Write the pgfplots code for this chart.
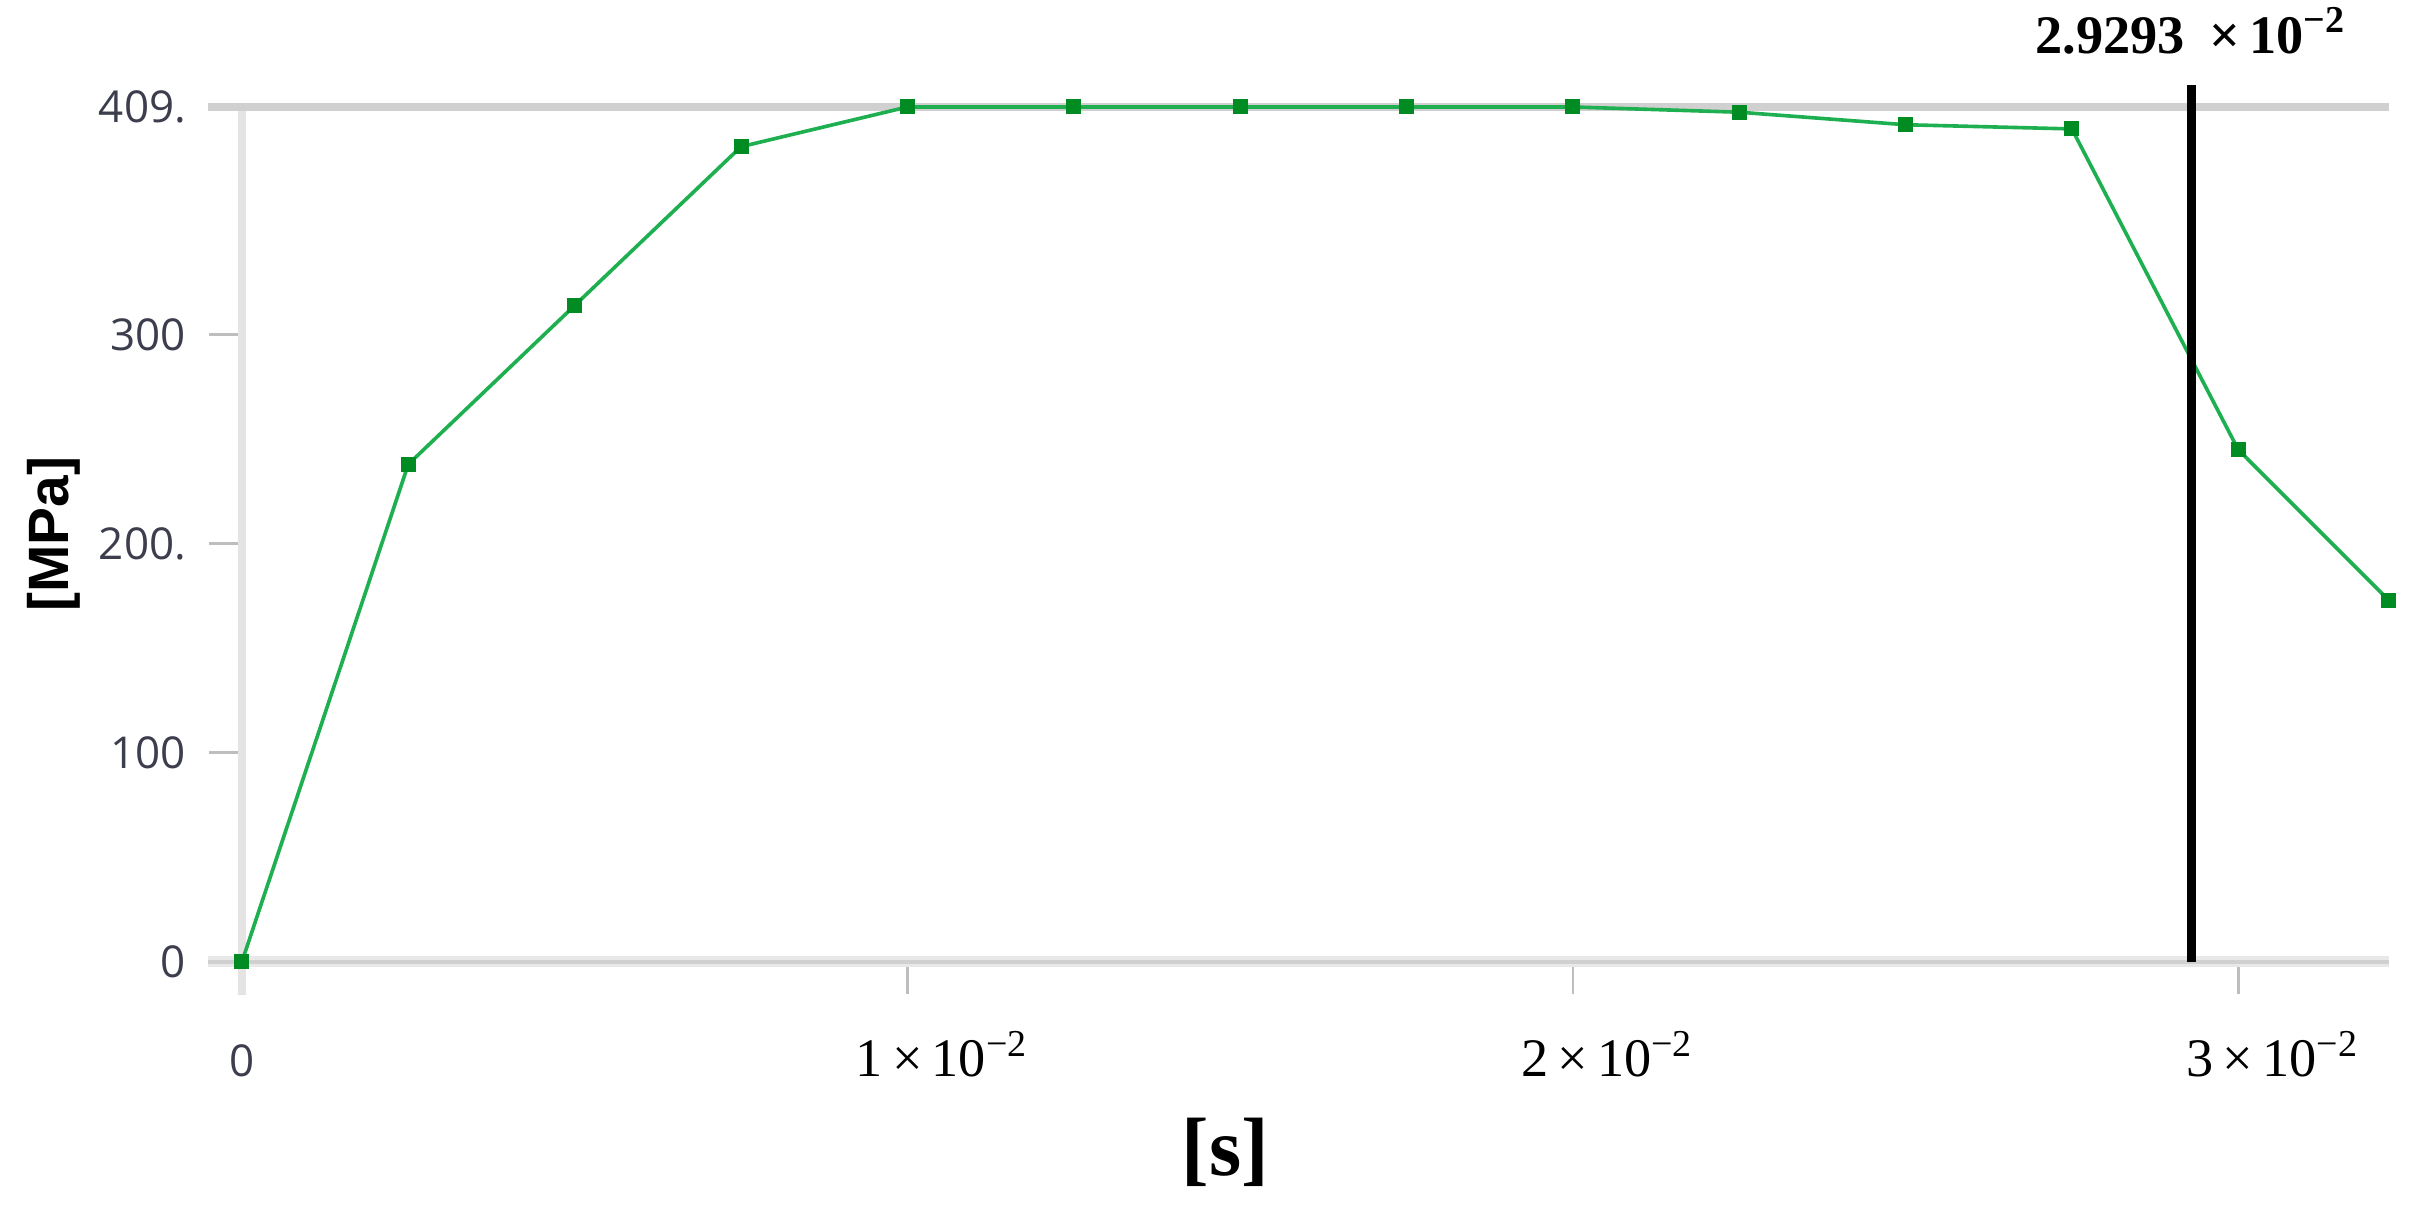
\documentclass[border=0pt]{standalone}
\usepackage{pgfplots}
\pgfplotsset{compat=1.18}
\usepackage{fontspec}
\setmainfont{Liberation Serif}
\newfontfamily\ticksans{Open Sans}
\newfontfamily\labsans{Liberation Sans}
\definecolor{tickgray}{RGB}{60,62,78}
\definecolor{linegreen}{RGB}{30,175,80}
\definecolor{markgreen}{RGB}{0,140,35}
\definecolor{gridgray}{RGB}{208,208,208}
\definecolor{axgray}{RGB}{228,228,228}
\definecolor{tkgray}{RGB}{190,190,190}
\pgfplotstableread{
x y
0 0
0.0025 238
0.005 314
0.0075 390
0.01 409
0.0125 409
0.015 409
0.0175 409
0.02 409
0.0225 406.5
0.025 400.5
0.0275 398.5
0.03 245
0.03226 173
}\stress
\newcommand{\xl}[1]{\makebox[0pt][r]{#1\,}\texttimes\makebox[0pt][l]{\,10\textsuperscript{\textminus 2}}}
\begin{document}
\begin{tikzpicture}
\begin{axis}[
  scale only axis, width=415.2pt, height=165.3pt,
  at={(0,0)}, anchor=south west,
  xmin=0, xmax=0.03226, ymin=0, ymax=409,
  axis x line*=bottom, axis y line*=left,
  axis line style={draw=none},
  clip=false,
  tick align=outside, major tick length=6.3pt,
  tick style={tkgray, line width=0.5pt},
  xtick={0,0.01,0.02,0.03},
  xticklabels={{\ticksans\fontsize{8.5}{10}\selectfont\color{tickgray}0},\xl{1},\xl{2},\xl{3}},
  xticklabel style={font=\fontsize{10.5}{12}\selectfont, anchor=base, yshift=-16pt},
  ytick={0,100,200,300,409},
  yticklabels={0,100,200.,300,409.},
  yticklabel style={font=\ticksans\fontsize{8.5}{10}\selectfont, text=tickgray, anchor=east, xshift=-1pt},
  scaled x ticks=false,
]
% light axis frame lines
\draw[axgray, line width=1.6pt] (axis cs:0,-16) -- (axis cs:0,407);
\draw[gridgray!50, line width=2.2pt] (axis cs:-0.000513,0) -- (axis cs:0.03226,0);
\draw[gridgray, line width=0.8pt] (axis cs:-0.000513,0) -- (axis cs:0.03226,0);
\draw[gridgray, line width=1.4pt] (axis cs:-0.000513,409) -- (axis cs:0.03226,409);
\addplot[color=linegreen, line width=0.7pt, mark=square*, mark size=1.1pt,
  mark options={fill=markgreen, draw=markgreen}] table[x=x,y=y] {\stress};
\addplot[black, line width=1.8pt, no markers] coordinates {(0.029293,0) (0.029293,419.5)};
\node[font=\bfseries\fontsize{10.5}{12}\selectfont, anchor=center] at ([yshift=14.7pt]axis cs:0.029293,409) {2.9293\hspace{0.45em}\texttimes\,10\textsuperscript{\textminus 2}};
\node[font=\labsans\bfseries\fontsize{11}{13}\selectfont, rotate=90, anchor=center] at ([xshift=-36.3pt]rel axis cs:0,0.5) {[MPa]};
\node[font=\bfseries\fontsize{16}{18}\selectfont, anchor=center] at ([yshift=-36.9pt]rel axis cs:0.458,0) {[s]};
\end{axis}
\pgfresetboundingbox
\path[use as bounding box] (-46.8pt,-51pt) rectangle (423.6pt,186pt);
\end{tikzpicture}
\end{document}
